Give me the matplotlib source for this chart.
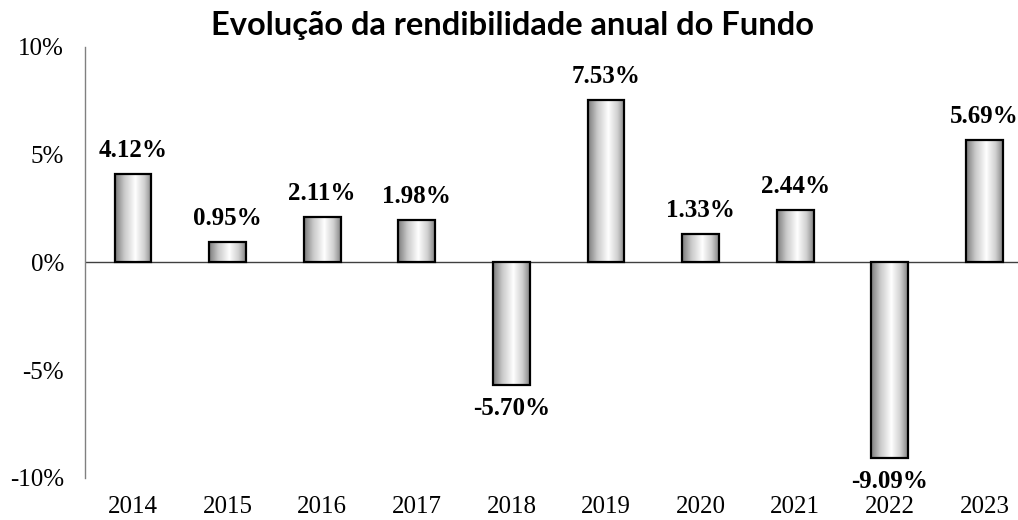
import numpy as np
import matplotlib
matplotlib.use("Agg")
import matplotlib.pyplot as plt
from matplotlib.colors import LinearSegmentedColormap
from matplotlib.ticker import FuncFormatter

years = ["2014", "2015", "2016", "2017", "2018", "2019", "2020", "2021", "2022", "2023"]
returns = [4.12, 0.95, 2.11, 1.98, -5.70, 7.53, 1.33, 2.44, -9.09, 5.69]
yticks = [-10, -5, 0, 5, 10]
title = "Evolução da rendibilidade anual do Fundo"

plt.rcParams["font.family"] = ["Liberation Serif", "DejaVu Serif"]

fig = plt.figure(figsize=(10.18, 5.2), dpi=100)
ax = fig.add_axes([85 / 1018, 1 - 478 / 520, 1 - 85 / 1018, (478 - 47) / 520])

# horizontal gradient like the Excel "metal" fill
cmap = LinearSegmentedColormap.from_list(
    "metal", [(0, "#7a7a7a"), (0.25, "#c8c8c8"), (0.55, "#ffffff"),
              (0.8, "#d0d0d0"), (1, "#858585")])
grad = np.linspace(0, 1, 256).reshape(1, -1)

x = np.arange(len(years))
width = 0.39
bars = ax.bar(x, returns, width=width, color="none", edgecolor="black",
              linewidth=1.6, zorder=3)
for b in bars:
    x0, y0 = b.get_x(), b.get_y()
    w, h = b.get_width(), b.get_height()
    im = ax.imshow(grad, cmap=cmap, aspect="auto", zorder=2,
                   extent=[x0, x0 + w, min(y0, y0 + h), max(y0, y0 + h)])
    im.set_clip_path(b)

for xi, v in zip(x, returns):
    if v >= 0:
        ax.text(xi, v + 0.55, "%.2f%%" % v, ha="center", va="bottom",
                fontsize=18, fontweight="bold")
    else:
        ax.text(xi, v - 0.55, "%.2f%%" % v, ha="center", va="top",
                fontsize=18, fontweight="bold")

ax.axhline(0, color="#404040", linewidth=1.0, zorder=1)
ax.set_xlim(-0.507, 9.355)
ax.set_ylim(-10, 10)
ax.set_yticks(yticks)
ax.yaxis.set_major_formatter(FuncFormatter(lambda v, p: "%d%%" % v))
ax.set_xticks(x)
ax.set_xticklabels(years)
ax.tick_params(axis="both", length=0, labelsize=18)
ax.tick_params(axis="y", pad=15)
ax.tick_params(axis="x", pad=13)
for s in ["top", "right", "bottom"]:
    ax.spines[s].set_visible(False)
ax.spines["left"].set_color("#808080")
ax.spines["left"].set_linewidth(1.0)

fig.text(0.503, 1 - 26 / 520, title, ha="center", va="center",
         fontsize=23.5, fontweight="bold", family=["Lato", "DejaVu Sans"])

fig.savefig("out.png", dpi=100)
